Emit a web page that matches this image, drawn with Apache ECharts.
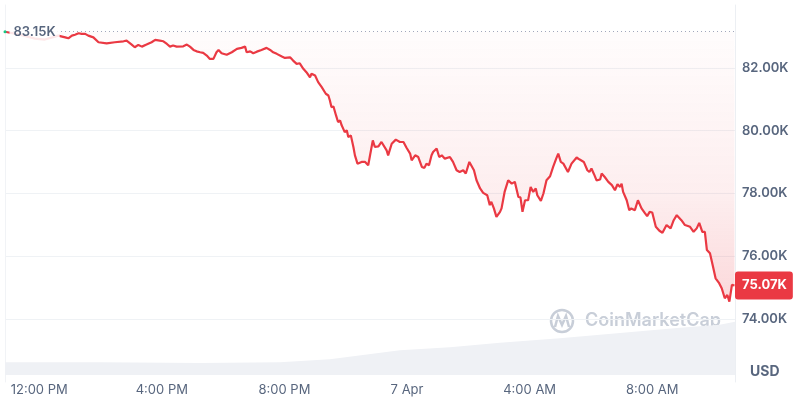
<!DOCTYPE html>
<html><head><meta charset="utf-8">
<script src="https://cdn.jsdelivr.net/npm/echarts@6/dist/echarts.min.js"></script>
<style>html,body{margin:0;padding:0;background:#fff}#c{width:800px;height:400px}</style>
</head><body><div id="c"></div>
<script>
// minutes since 00:00, 6 Apr
const times = [653,682,712,731,751,757,771,777,784,790,
797,803,810,816,826,836,839,852,868,885,
891,901,907,914,921,930,940,947,956,963,
970,976,982,989,1002,1009,1015,1022,1028,1035,
1041,1048,1054,1061,1067,1071,1077,1087,1097,1107,
1116,1123,1126,1133,1139,1146,1155,1165,1172,1178,
1185,1195,1201,1211,1217,1224,1230,1237,1243,1250,
1253,1260,1266,1273,1276,1281,1286,1289,1292,1296,
1301,1305,1309,1312,1315,1318,1322,1325,1330,1335,
1338,1343,1351,1358,1364,1367,1373,1377,1384,1390,
1393,1400,1403,1410,1418,1426,1433,1439,1446,1449,
1456,1462,1469,1474,1478,1483,1488,1491,1498,1503,
1508,1514,1524,1530,1537,1543,1550,1555,1562,1571,
1576,1583,1589,1597,1602,1605,1610,1615,1622,1625,
1631,1638,1645,1651,1658,1662,1666,1671,1677,1682,
1687,1692,1695,1702,1707,1713,1720,1726,1732,1736,
1741,1746,1755,1762,1772,1778,1786,1793,1797,1801,
1806,1811,1818,1821,1827,1834,1841,1847,1852,1857,
1860,1863,1870,1875,1879,1886,1892,1899,1906,1910,
1915,1920,1927,1934,1940,1948,1956,1962,1968,1977,
1984,1994,2001,2007,2012,2018,2023,2027,2033,2039,
2044,2051,2056,2059,2062,2067,2071,2076,2081];
const prices = [83150,83055,82930,82900,82995,83025,82970,82940,83025,83055,
83100,83080,83080,83025,82970,82815,82760,82780,82815,82845,
82865,82740,82655,82730,82675,82740,82815,82890,82865,82845,
82760,82675,82710,82675,82685,82740,82675,82570,82525,82495,
82475,82390,82285,82285,82495,82570,82465,82415,82495,82605,
82635,82675,82495,82525,82465,82515,82570,82635,82570,82495,
82445,82360,82315,82335,82230,82125,82145,81970,81860,81700,
81810,81755,81545,81385,81440,81175,81120,80960,80750,80770,
80485,80275,80325,80170,80065,79955,80010,79795,79850,79480,
79215,78950,79005,79005,78900,79160,79690,79480,79500,79640,
79690,79375,79215,79585,79715,79640,79640,79455,79270,79055,
79215,79160,78845,78815,78950,78900,79215,79320,79430,79160,
79215,79110,79160,79005,78740,78685,78740,78635,79005,78740,
78420,78160,78020,77945,77630,77735,77525,77255,77415,77525,
78050,78420,78315,78370,77890,77875,77415,77785,77785,78210,
78050,78160,77945,77765,78000,78420,78550,78845,79110,79270,
79005,78950,78685,78950,79145,79080,79005,78740,78685,78795,
78615,78420,78445,78635,78525,78370,78265,78105,78295,78210,
78315,78050,77785,77470,77525,77470,77785,77525,77365,77280,
77415,77395,76940,76815,76750,76995,76890,77150,77310,77150,
76995,76940,76780,76890,77065,76780,76780,76200,76095,75670,
75300,75145,74985,75035,74665,74770,74560,75090,75070];
const volTimes = [653,839,1035,1191,1289,1426,1524,1622,1739,1857,1974,2052,2082];
const volValues = [17,17,16,17,21,33,37,43,49,56,63,67,71];
const openPrice = 83150;
const lastPrice = 75070;
const xMin = 653, xMax = 2082;
const xTickMinutes = [720,960,1200,1440,1680,1920];
const xTickLabels = ['12:00 PM','4:00 PM','8:00 PM','7 Apr','4:00 AM','8:00 AM'];
const yTickValues = [74000,76000,78000,80000,82000];

const fmtK = v => (v/1000).toFixed(2) + 'K';
const priceData = times.map((t,i)=>[t, prices[i]]);
const volData = volTimes.map((t,i)=>[t, volValues[i]]);
const labelColor = '#58667e';
const chart = echarts.init(document.getElementById('c'), null, {renderer:'canvas'});
chart.setOption({
  animation: false,
  grid: [
    {left:5, right:65, top:5, height:377},
    {left:5, right:65, top:300, height:75}
  ],
  xAxis: [
    {type:'value', gridIndex:0, min:xMin, max:xMax, show:false},
    {type:'value', gridIndex:1, min:xMin, max:xMax,
     axisLine:{show:false}, axisTick:{show:false}, splitLine:{show:false},
     axisLabel:{customValues:xTickMinutes, margin:9, color:labelColor, fontSize:13, fontFamily:'Inter',
       formatter: v => { const i = xTickMinutes.indexOf(v); return i>=0 ? xTickLabels[i] : ''; }}}
  ],
  yAxis: [
    {type:'value', gridIndex:0, position:'right', min:72000, max:84000, interval:2000,
     axisLine:{show:true, lineStyle:{color:'#eceff3'}}, axisTick:{show:false},
     splitLine:{show:true, lineStyle:{color:['rgba(0,0,0,0)','#eff2f5','#eff2f5','#eff2f5','#eff2f5','#eff2f5','rgba(0,0,0,0)'], width:1}},
     axisLabel:{customValues:yTickValues, margin:7, color:labelColor, fontSize:13, fontWeight:600, fontFamily:'Inter', formatter: fmtK}},
    {type:'value', gridIndex:0, position:'left', min:72000, max:84000, interval:2000,
     axisLine:{show:true, lineStyle:{color:'#f1f3f6'}}, axisTick:{show:false}, axisLabel:{show:false}, splitLine:{show:false}},
    {type:'value', gridIndex:1, min:0, max:100, show:false}
  ],
  series: [
    {type:'line', xAxisIndex:1, yAxisIndex:2, data:volData, showSymbol:false, silent:true,
     lineStyle:{width:0}, areaStyle:{color:'#eff1f5', opacity:1}, z:1},
    {type:'line', xAxisIndex:0, yAxisIndex:0, data:priceData, showSymbol:false, silent:true,
     lineStyle:{color:'#ea3943', width:2.2}, z:3,
     areaStyle:{origin:openPrice, color:new echarts.graphic.LinearGradient(0,0,0,1,[
       {offset:0, color:'rgba(234,57,67,0.02)'},
       {offset:0.6, color:'rgba(234,57,67,0.12)'},
       {offset:1, color:'rgba(234,57,67,0.28)'}])},
     markLine:{silent:true, symbol:['none','none'], animation:false,
       data:[
         {yAxis:openPrice, lineStyle:{type:[1,3], color:'#a1a7bb', width:1}, label:{show:false}},
         {yAxis:lastPrice, lineStyle:{color:'rgba(0,0,0,0)', width:1}, label:{show:true, position:'end', distance:0,
           formatter: () => fmtK(lastPrice), backgroundColor:'#ea3943', color:'#fff', fontWeight:'bold',
           fontSize:13, fontFamily:'Inter', padding:[7,6,8,7], borderRadius:3}}
       ]},
     markPoint:{silent:true, animation:false, symbol:'circle', symbolSize:3,
       data:[{coord:[times[0], openPrice], itemStyle:{color:'#16c784'},
         label:{show:true, position:'right', distance:3, formatter: () => fmtK(openPrice),
           color:labelColor, fontSize:13, fontWeight:600, fontFamily:'Inter',
           backgroundColor:'rgba(255,255,255,0.88)', padding:[3,4]}}]}
    }
  ],
  graphic: [
    {type:'group', z:100, silent:true, children:[
      {type:'circle', shape:{cx:562, cy:321, r:11}, style:{fill:'none', stroke:'#c8ced8', lineWidth:2.5}},
      {type:'polyline', shape:{points:[[555,327],[558,316],[562,325],[566,316],[569,327]]}, style:{fill:'none', stroke:'#c8ced8', lineWidth:2.5}},
      {type:'text', x:585, y:321, style:{text:'CoinMarketCap', fontSize:18, fontWeight:600, fontFamily:'Inter', fill:'#c8ced8', verticalAlign:'middle'}},
      {type:'text', x:750, y:372, style:{text:'USD', fontSize:14, fontWeight:'bold', fontFamily:'Inter', fill:labelColor, verticalAlign:'middle'}}
    ]}
  ]
});
</script>
</body></html>
